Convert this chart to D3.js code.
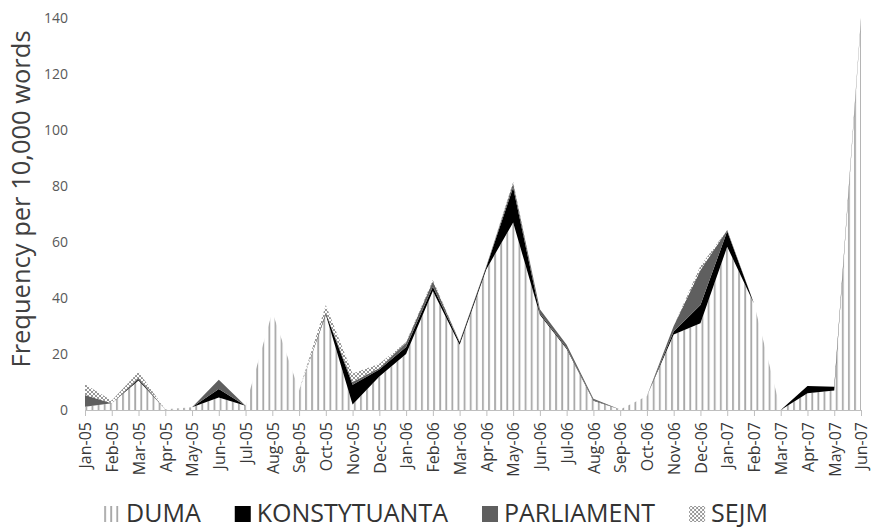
<!DOCTYPE html>
<html>
<head>
<meta charset="utf-8">
<script src="https://cdn.jsdelivr.net/npm/d3@7"></script>
<style>
  body { margin: 0; background: #fff; }
  text { font-family: "Open Sans", "Noto Sans", sans-serif; }
</style>
</head>
<body>
<div id="chart"></div>
<script>
// months on the x axis
let months = ["Jan-05", "Feb-05", "Mar-05", "Apr-05", "May-05", "Jun-05", "Jul-05", "Aug-05",
    "Sep-05", "Oct-05", "Nov-05", "Dec-05", "Jan-06", "Feb-06", "Mar-06", "Apr-06", "May-06",
    "Jun-06", "Jul-06", "Aug-06", "Sep-06", "Oct-06", "Nov-06", "Dec-06", "Jan-07", "Feb-07",
    "Mar-07", "Apr-07", "May-07", "Jun-07"];

// frequency per 10,000 words
let duma  = [1.2, 2.4, 10.5, 0.3, 1.0, 4.5, 1.5, 35, 7, 34, 2, 12, 20, 42.5, 23.3, 50.3, 67, 34, 21.8, 3.3, 0.2, 5, 27, 31, 58.3, 38, 0, 6, 7, 139];
let konst = [0, 0, 0.5, 0, 0, 3, 0, 0, 0, 0.5, 7, 2.5, 2.5, 1.5, 0.8, 0.8, 12.5, 0.5, 0.3, 0.2, 0, 0, 1, 6.5, 5.5, 0, 0, 2.6, 1.3, 0];
let parl  = [4.2, 0, 0.5, 0, 0, 3.3, 0, 0, 0, 0.3, 1, 0.5, 1.5, 2, 0.3, 0.3, 1.5, 1.5, 1.2, 0.5, 0, 0, 2, 12.5, 0.5, 0, 0, 0, 0, 1];
let sejm  = [3.8, 1, 2.2, 0, 0, 0, 0, 0, 0, 2.7, 3, 1.5, 0.3, 0.5, 0, 0, 0.5, 0, 0, 0, 0, 0, 0, 1.5, 0, 0, 0, 0, 0, 0];

let seriesNames = ["DUMA", "KONSTYTUANTA", "PARLIAMENT", "SEJM"];
let yTicks = [0, 20, 40, 60, 80, 100, 120, 140];

let width = 872;
let height = 528;

let table = months.map(function (m, i) {
    return { month: m, DUMA: duma[i], KONSTYTUANTA: konst[i], PARLIAMENT: parl[i], SEJM: sejm[i] };
});

let svg = d3.select("#chart")
    .append("svg")
    .attr("width", width)
    .attr("height", height);

// fill patterns
let defs = svg.append("defs");
let hatch = defs.append("pattern")
    .attr("id", "hatch")
    .attr("patternUnits", "userSpaceOnUse")
    .attr("width", 6.1)
    .attr("height", 10);
hatch.append("rect").attr("width", 6.1).attr("height", 10).attr("fill", "#fff");
hatch.append("line")
    .attr("x1", 1).attr("x2", 1).attr("y1", 0).attr("y2", 10)
    .attr("stroke", "#a8a8a8").attr("stroke-width", 1.8);

let lattice = defs.append("pattern")
    .attr("id", "lattice")
    .attr("patternUnits", "userSpaceOnUse")
    .attr("width", 4)
    .attr("height", 4);
lattice.append("rect").attr("width", 4).attr("height", 4).attr("fill", "#fff");
lattice.append("path")
    .attr("d", "M0,0L4,4M4,0L0,4")
    .attr("stroke", "#8c8c8c").attr("stroke-width", 0.9);

let fills = {
    DUMA: "url(#hatch)",
    KONSTYTUANTA: "#000000",
    PARLIAMENT: "#5f5f5f",
    SEJM: "url(#lattice)"
};

let x = d3.scalePoint()
    .domain(months)
    .range([85, 861]);

let y = d3.scaleLinear()
    .domain([0, 140])
    .range([410, 18]);

let stacked = d3.stack().keys(seriesNames)(table);

let area = d3.area()
    .x((d) => x(d.data.month))
    .y0((d) => y(d[0]))
    .y1((d) => y(d[1]));

svg.append("g")
    .selectAll("path")
    .data(stacked)
    .enter().append("path")
    .attr("d", area)
    .attr("fill", (d) => fills[d.key]);

// x axis
let xAxis = svg.append("g")
    .attr("transform", "translate(0,410)")
    .call(d3.axisBottom(x).tickSize(6).tickSizeOuter(0));
xAxis.select(".domain").attr("stroke", "#bfbfbf");
xAxis.selectAll(".tick line").attr("stroke", "#bfbfbf");
xAxis.selectAll("text")
    .attr("transform", "rotate(-90)")
    .attr("text-anchor", "end")
    .attr("x", -12)
    .attr("y", 0)
    .attr("dy", "0.36em")
    .style("font-size", "16px")
    .style("font-family", "'Open Sans', sans-serif")
    .attr("fill", "#383838");

// y axis, labels only
let yAxis = svg.append("g")
    .attr("transform", "translate(85,0)")
    .call(d3.axisLeft(y).tickValues(yTicks).tickSize(0).tickPadding(17));
yAxis.select(".domain").remove();
yAxis.selectAll("text")
    .style("font-size", "14px")
    .style("font-family", "'Open Sans', sans-serif")
    .attr("fill", "#595959");

svg.append("text")
    .attr("transform", "translate(30,199) rotate(-90)")
    .attr("text-anchor", "middle")
    .style("font-size", "25.5px")
    .attr("fill", "#404040")
    .text("Frequency per 10,000 words");

// legend
let legend = svg.append("g");
let cursor = 0;
seriesNames.forEach(function (name) {
    let item = legend.append("g").attr("transform", "translate(" + cursor + ",0)");
    item.append("rect")
        .attr("x", 0).attr("y", 506)
        .attr("width", 16).attr("height", 16)
        .attr("fill", fills[name]);
    let label = item.append("text")
        .attr("x", 22).attr("y", 522)
        .style("font-size", "25px")
        .attr("fill", "#333333")
        .text(name);
    cursor += 22 + label.node().getComputedTextLength() + 34;
});
let legendWidth = cursor - 34;
legend.attr("transform", "translate(" + (436 - legendWidth / 2) + ",0)");
</script>
</body>
</html>
